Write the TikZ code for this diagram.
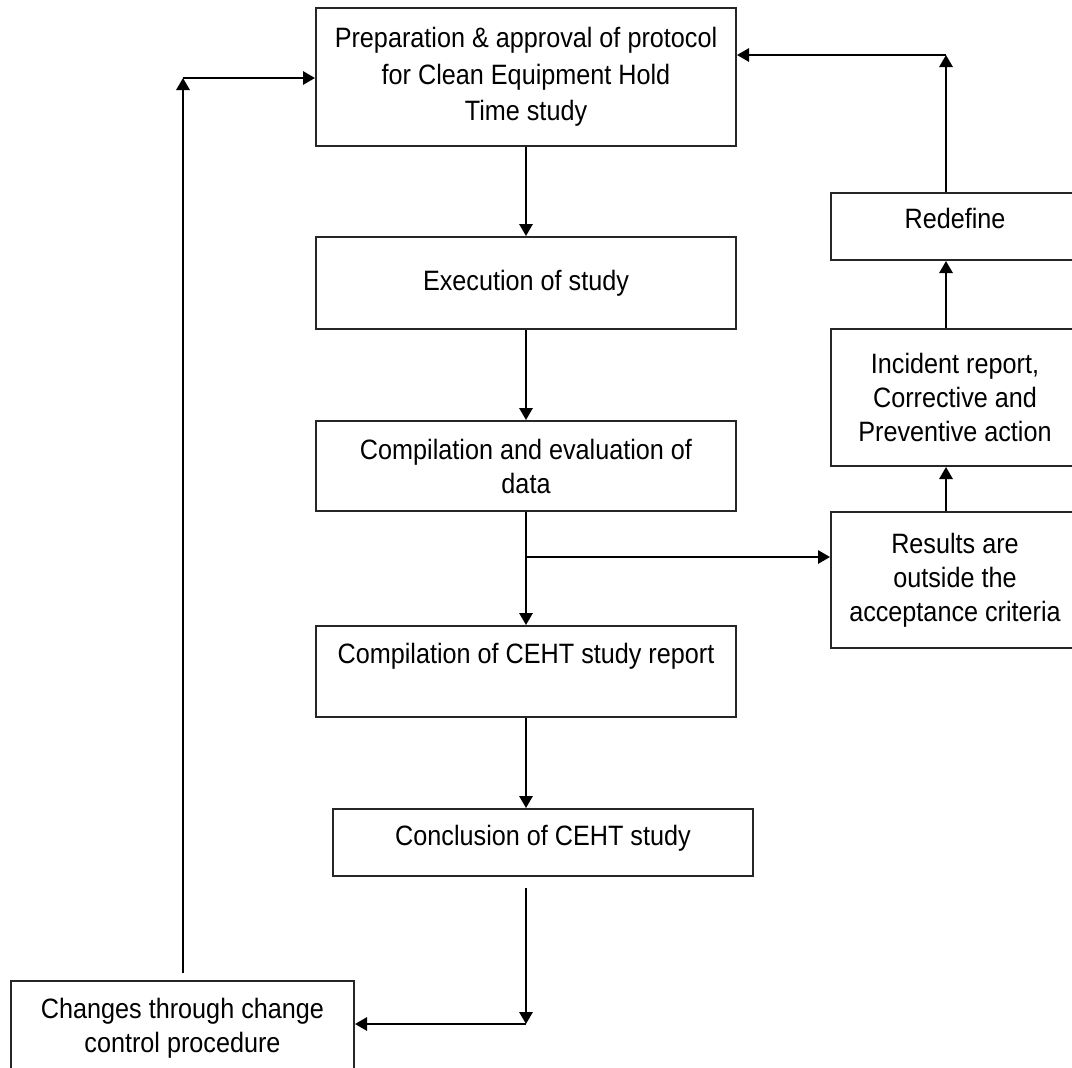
\documentclass[tikz,border=0pt]{standalone}
\usepackage{fontspec}
\setmainfont{Liberation Sans}[FakeStretch=0.9]
\usetikzlibrary{arrows.meta}
\begin{document}
\begin{tikzpicture}[x=0.75pt,y=-0.75pt,
  box/.style={draw=black!85, line width=1.5pt, rectangle, align=center, inner sep=0pt,
              font=\fontsize{21pt}{25.5pt}\selectfont},
  lift/.style={text height=15pt, text depth=#1},
  arr/.style={draw=black, line width=1.5pt, -{Triangle[length=9pt,width=10pt]}}]
\useasboundingbox (0,0) rectangle (1072,1068);
\clip (0,0) rectangle (1072,1068);

% main column
\node[box, minimum width=315pt, minimum height=103.5pt,
      font=\fontsize{21pt}{27.5pt}\selectfont] (prep) at (526,77)
  {Preparation \& approval of protocol\\for Clean Equipment Hold\\Time study};
\node[box, minimum width=315pt, minimum height=69pt] (exec) at (526,283) {Execution of study};
\node[box, minimum width=315pt, minimum height=67.5pt] (comp) at (526,466)
  {Compilation and evaluation of\\data};
\node[box, minimum width=315pt, minimum height=68.25pt, lift=27.75pt] (report) at (526,671.5)
  {Compilation of CEHT study report};
\node[box, minimum width=315pt, minimum height=50.25pt, lift=10.5pt] (concl) at (543,842.5)
  {Conclusion of CEHT study};
\node[box, minimum width=257.25pt, minimum height=70.5pt] (changes) at (182.5,1028)
  {Changes through change\\control procedure};

% right column
\node[box, minimum width=186pt, minimum height=50.25pt, lift=12pt] (redef) at (955,226.5) {Redefine};
\node[box, minimum width=186pt, minimum height=102.75pt] (incid) at (955,397.5)
  {Incident report,\\Corrective and\\Preventive action};
\node[box, minimum width=186pt, minimum height=102pt] (results) at (955,580)
  {Results are\\outside the\\acceptance criteria};

% helper coordinates
\coordinate (br) at (526,557);
\coordinate (cdown) at (526,888);
\coordinate (ccorner) at (526,1024);
\coordinate (ubottom) at (183,973);
\coordinate (ucorner) at (183,78);
\coordinate (rx) at (946,55);

% main flow
\draw[arr] (prep.south) -- (exec.north);
\draw[arr] (exec.south) -- (comp.north);
\draw[arr] (comp.south) -- (report.north);
\draw[arr] (br) -- (br -| results.west);
\draw[arr] (report.south) -- (report.south |- concl.north);
\draw[arr] (cdown) -- (ccorner);
\draw[arr] (ccorner) -- (ccorner -| changes.east);
\draw[arr] (ubottom) -- (ucorner);
\draw[arr] (ucorner) -- (ucorner -| prep.west);

% right loop
\draw[arr] (rx |- results.north) -- (rx |- incid.south);
\draw[arr] (rx |- incid.north) -- (rx |- redef.south);
\draw[arr] (rx |- redef.north) -- (rx);
\draw[arr] (rx) -- (rx -| prep.east);
\end{tikzpicture}
\end{document}
